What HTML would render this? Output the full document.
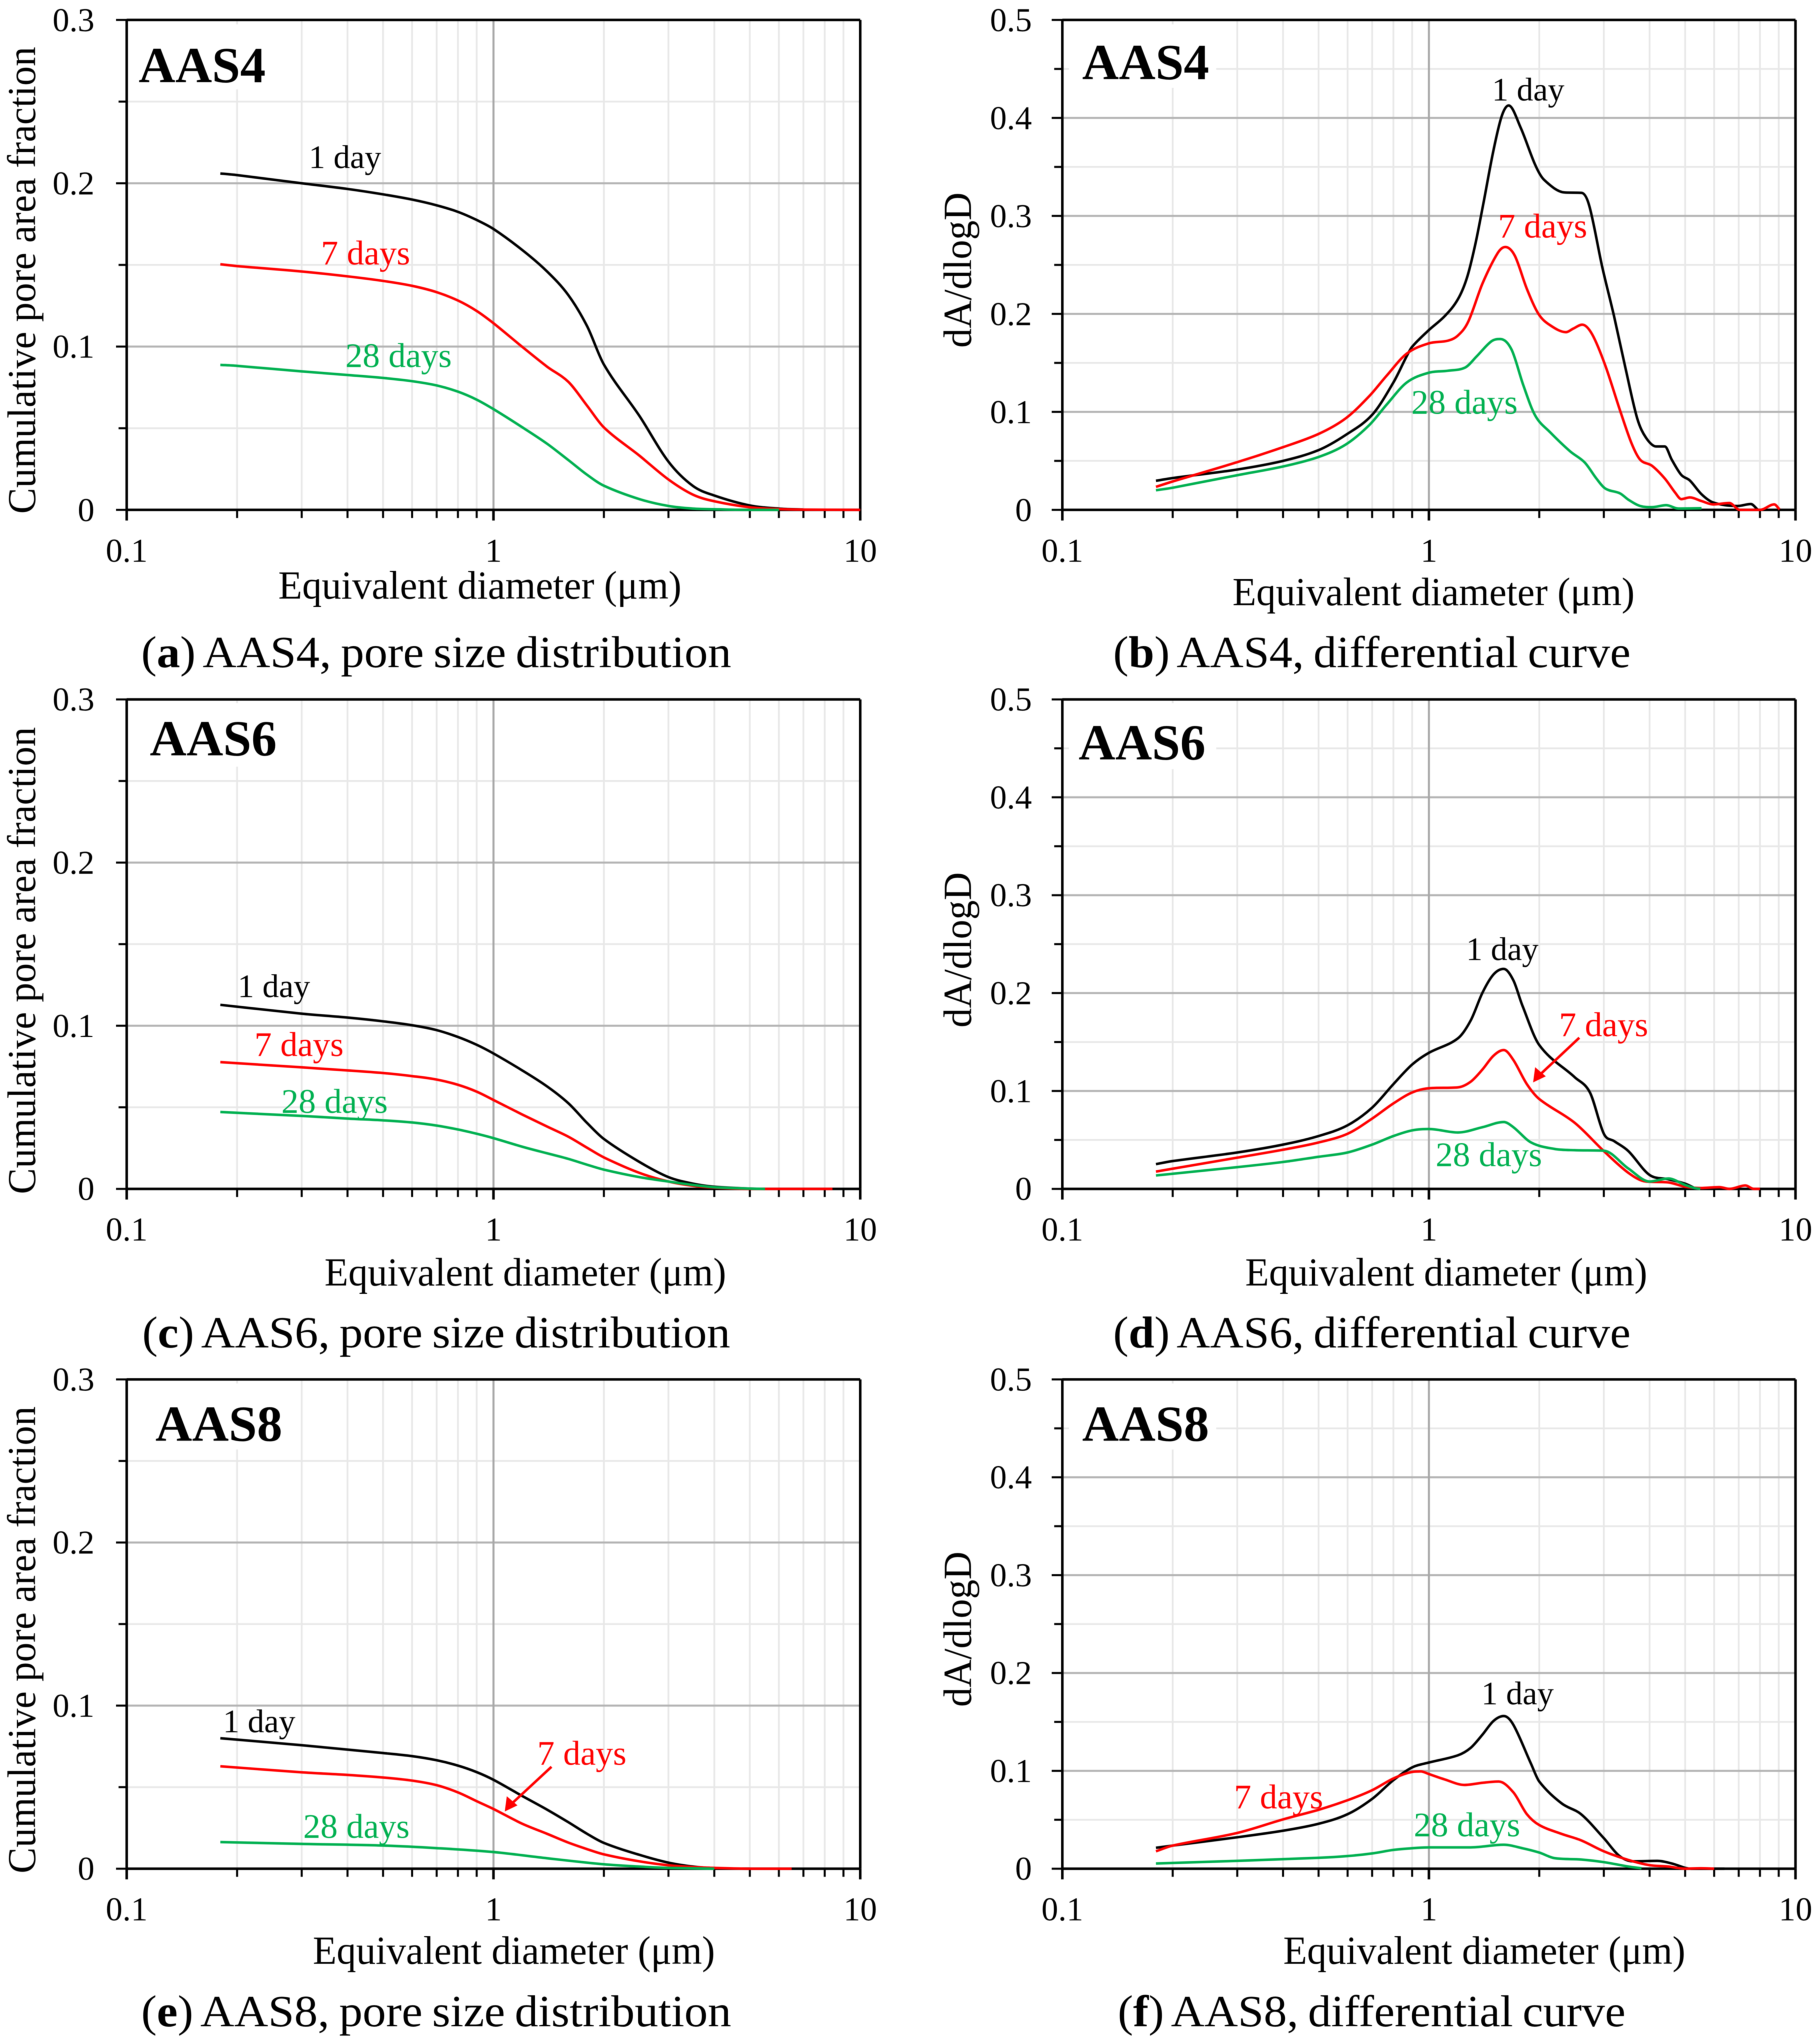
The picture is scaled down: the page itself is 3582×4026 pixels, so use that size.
<!DOCTYPE html>
<html lang="en">
<head>
<meta charset="utf-8">
<title>Pore size distribution and differential curves</title>
<style>
html,body{margin:0;padding:0;background:#fff;width:3582px;height:4026px;overflow:hidden}
svg{display:block;filter:blur(0.9px)}
text{font-family:"Liberation Serif",serif;fill:#000}
.tick{font-size:66px}
.lab{font-size:68px}
.lab1{font-size:65px}
.aas{font-size:100px;font-weight:bold}
.ax{font-size:78px}
.cap{font-size:88px;word-spacing:-4px}
.ytitle{font-size:78px}
.red{fill:#ff0000}
.green{fill:#00b050}
</style>
</head>
<body>
<svg xmlns="http://www.w3.org/2000/svg" width="3582" height="4026" viewBox="0 0 3582 4026">
<rect width="3582" height="4026" fill="#fff"/>

<g id="panel-a"><g class="plot"></g>
<rect x="262" y="48" width="280" height="128" fill="#fff"/>
<text class="aas" x="273" y="162">AAS4</text>
<text class="lab1" x="608" y="331">1 day</text>
<text class="lab red" x="632" y="521">7 days</text>
<text class="lab green" x="680" y="723">28 days</text>
<text class="ytitle" transform="translate(69,1012) rotate(-90)" textLength="920" lengthAdjust="spacingAndGlyphs">Cumulative pore area fraction</text>
<text class="ax" x="548" y="1179" textLength="794" lengthAdjust="spacingAndGlyphs">Equivalent diameter (μm)</text>
<text class="cap" x="278" y="1314" textLength="1162" lengthAdjust="spacingAndGlyphs">(<tspan font-weight="bold">a</tspan>) AAS4, pore size distribution</text>
</g>

<g id="panel-b"><g class="plot"></g>
<rect x="2105" y="48" width="290" height="125" fill="#fff"/>
<text class="aas" x="2131" y="156">AAS4</text>
<text class="lab1" x="2938" y="198">1 day</text>
<text class="lab red" x="2950" y="468">7 days</text>
<text class="lab green" x="2779" y="815">28 days</text>
<text class="ytitle" transform="translate(1912,685) rotate(-90)" textLength="306" lengthAdjust="spacingAndGlyphs">dA/dlogD</text>
<text class="ax" x="2427" y="1192" textLength="792" lengthAdjust="spacingAndGlyphs">Equivalent diameter (μm)</text>
<text class="cap" x="2192" y="1314" textLength="1019" lengthAdjust="spacingAndGlyphs">(<tspan font-weight="bold">b</tspan>) AAS4, differential curve</text>
</g>

<g id="panel-c"><g class="plot"></g>
<rect x="262" y="1385" width="290" height="125" fill="#fff"/>
<text class="aas" x="295" y="1488">AAS6</text>
<text class="lab1" x="468" y="1964">1 day</text>
<text class="lab red" x="501" y="2080">7 days</text>
<text class="lab green" x="554" y="2192">28 days</text>
<text class="ytitle" transform="translate(69,2352) rotate(-90)" textLength="920" lengthAdjust="spacingAndGlyphs">Cumulative pore area fraction</text>
<text class="ax" x="639" y="2532" textLength="791" lengthAdjust="spacingAndGlyphs">Equivalent diameter (μm)</text>
<text class="cap" x="280" y="2654" textLength="1158" lengthAdjust="spacingAndGlyphs">(<tspan font-weight="bold">c</tspan>) AAS6, pore size distribution</text>
</g>

<g id="panel-d"><g class="plot"></g>
<rect x="2105" y="1385" width="290" height="130" fill="#fff"/>
<text class="aas" x="2124" y="1496">AAS6</text>
<text class="lab1" x="2887" y="1891">1 day</text>
<text class="lab red" x="3070" y="2041">7 days</text>
<text class="lab green" x="2827" y="2297">28 days</text>
<line x1="3110" y1="2044" x2="3028" y2="2121" stroke="#ff0000" stroke-width="5"/>
<polygon points="3019,2132 3023,2102 3044,2120" fill="#ff0000"/>
<text class="ytitle" transform="translate(1912,2024) rotate(-90)" textLength="306" lengthAdjust="spacingAndGlyphs">dA/dlogD</text>
<text class="ax" x="2452" y="2532" textLength="792" lengthAdjust="spacingAndGlyphs">Equivalent diameter (μm)</text>
<text class="cap" x="2192" y="2654" textLength="1019" lengthAdjust="spacingAndGlyphs">(<tspan font-weight="bold">d</tspan>) AAS6, differential curve</text>
</g>

<g id="panel-e"><g class="plot"></g>
<rect x="262" y="2725" width="300" height="130" fill="#fff"/>
<text class="aas" x="306" y="2838">AAS8</text>
<text class="lab1" x="439" y="3412">1 day</text>
<text class="lab red" x="1058" y="3476">7 days</text>
<text class="lab green" x="597" y="3620">28 days</text>
<line x1="1086" y1="3480" x2="1003" y2="3557" stroke="#ff0000" stroke-width="5"/>
<polygon points="994,3568 998,3538 1019,3556" fill="#ff0000"/>
<text class="ytitle" transform="translate(69,3690) rotate(-90)" textLength="920" lengthAdjust="spacingAndGlyphs">Cumulative pore area fraction</text>
<text class="ax" x="616" y="3868" textLength="792" lengthAdjust="spacingAndGlyphs">Equivalent diameter (μm)</text>
<text class="cap" x="278" y="3991" textLength="1162" lengthAdjust="spacingAndGlyphs">(<tspan font-weight="bold">e</tspan>) AAS8, pore size distribution</text>
</g>

<g id="panel-f"><g class="plot"></g>
<rect x="2105" y="2725" width="290" height="130" fill="#fff"/>
<text class="aas" x="2131" y="2838">AAS8</text>
<text class="lab1" x="2917" y="3357">1 day</text>
<text class="lab red" x="2430" y="3562">7 days</text>
<text class="lab green" x="2784" y="3617">28 days</text>
<text class="ytitle" transform="translate(1912,3362) rotate(-90)" textLength="306" lengthAdjust="spacingAndGlyphs">dA/dlogD</text>
<text class="ax" x="2527" y="3868" textLength="792" lengthAdjust="spacingAndGlyphs">Equivalent diameter (μm)</text>
<text class="cap" x="2201" y="3991" textLength="1000" lengthAdjust="spacingAndGlyphs">(<tspan font-weight="bold">f</tspan>) AAS8, differential curve</text>
</g>
</svg>

<script>
// ---- shared axis labels ----
const xTickValues = [0.1, 1, 10];
const xTickLabels = ['0.1', '1', '10'];
const xMinorDecades = [0.1, 1];
const xMinorMultiples = [2, 3, 4, 5, 6, 7, 8, 9];
const cumulativeTicks = [0, 0.1, 0.2, 0.3];
const cumulativeTickLabels = ['0', '0.1', '0.2', '0.3'];
const cumulativeMinorTicks = [0.05, 0.15, 0.25];
const differentialTicks = [0, 0.1, 0.2, 0.3, 0.4, 0.5];
const differentialTickLabels = ['0', '0.1', '0.2', '0.3', '0.4', '0.5'];
const differentialMinorTicks = [0.05, 0.15, 0.25, 0.35, 0.45];

// ---- panel a: AAS4 cumulative ----
const aDiameter1 = [0.18,0.2,0.3,0.4,0.5,0.6,0.7,0.8,0.9,1,1.2,1.4,1.6,1.8,2,2.5,3,3.5,4,5,6,7];
const aValues1 = [0.206,0.205,0.2,0.1965,0.1932,0.19,0.1865,0.1825,0.1775,0.172,0.159,0.146,0.1315,0.1125,0.089,0.0575,0.0295,0.0146,0.0088,0.0027,0.0008,0.0002];
const aDiameter7 = [0.18,0.2,0.3,0.4,0.5,0.6,0.7,0.8,0.9,1,1.2,1.4,1.6,1.8,2,2.5,3,3.5,4,5,6,7,10];
const aValues7 = [0.1504,0.1493,0.146,0.143,0.1402,0.1372,0.1333,0.1282,0.1218,0.1143,0.0997,0.0877,0.0784,0.0638,0.0505,0.0332,0.0186,0.0093,0.0053,0.0016,0.0005,0.0002,0];
const aDiameter28 = [0.18,0.2,0.3,0.4,0.5,0.6,0.7,0.8,0.9,1,1.2,1.4,1.6,1.8,2,2.5,3,3.5,4,5,6];
const aValues28 = [0.0888,0.0882,0.0848,0.0826,0.0808,0.0788,0.0762,0.0724,0.0675,0.0617,0.0505,0.0405,0.0305,0.0215,0.0148,0.0066,0.0024,0.0008,0.0004,0,0];

// ---- panel b: AAS4 differential ----
const bDiameter1 = [0.18,0.2,0.3,0.4,0.5,0.593,0.7,0.8,0.87,0.9,1,1.106,1.2,1.27,1.34,1.41,1.5,1.58,1.65,1.78,1.95,2.06,2.34,2.61,2.74,2.97,3.2,3.44,3.7,3.91,4.17,4.4,4.6,4.88,5.15,5.54,5.96,6.95,7.55,7.9];
const bValues1 = [0.0297,0.0325,0.0412,0.05,0.061,0.0765,0.097,0.13,0.157,0.1665,0.1835,0.198,0.215,0.237,0.272,0.314,0.367,0.402,0.4127,0.39,0.352,0.337,0.324,0.3235,0.31,0.248,0.1975,0.144,0.0934,0.0737,0.0647,0.0647,0.051,0.0357,0.03,0.016,0.0076,0.004,0.006,0];
const bDiameter7 = [0.18,0.2,0.3,0.4,0.5,0.593,0.687,0.767,0.87,1,1.127,1.2,1.28,1.4,1.54,1.616,1.715,1.85,1.99,2.14,2.365,2.475,2.62,2.79,3.03,3.32,3.57,3.77,4.06,4.4,4.7,4.88,5.15,5.54,5.96,6.6,7.05,8,8.75,9.05];
const bValues7 = [0.0235,0.029,0.0487,0.064,0.0775,0.0934,0.116,0.137,0.1595,0.17,0.1727,0.178,0.192,0.231,0.262,0.2683,0.2594,0.2256,0.2,0.1885,0.1814,0.185,0.189,0.179,0.147,0.1018,0.068,0.0512,0.045,0.032,0.0174,0.011,0.0127,0.009,0.0056,0.007,0,0,0.0056,0.0005];
const bDiameter28 = [0.18,0.2,0.3,0.4,0.5,0.593,0.687,0.767,0.87,1,1.127,1.257,1.35,1.48,1.565,1.68,1.81,1.95,2.14,2.43,2.66,2.87,3.03,3.32,3.5,3.77,4.06,4.44,4.79,5.54];
const bValues28 = [0.02,0.0226,0.0354,0.0443,0.054,0.0667,0.0864,0.1075,0.13,0.14,0.142,0.1454,0.1567,0.172,0.1744,0.1637,0.127,0.0962,0.0793,0.0596,0.0484,0.0315,0.0217,0.0169,0.0104,0.004,0.0028,0.0048,0.0014,0.0017];

// ---- panel c: AAS6 cumulative ----
const cDiameter1 = [0.18,0.3,0.4,0.5,0.6,0.7,0.8,0.9,1,1.2,1.4,1.6,1.8,2,2.5,3,3.5,4,5,5.5];
const cValues1 = [0.1128,0.1074,0.105,0.1027,0.1003,0.0973,0.0931,0.0883,0.083,0.0725,0.0628,0.0525,0.0404,0.0306,0.0165,0.0072,0.0032,0.0013,0.0002,0];
const cDiameter7 = [0.18,0.3,0.4,0.5,0.6,0.7,0.8,0.9,1,1.2,1.4,1.6,1.8,2,2.5,3,3.5,4,5,8.4];
const cValues7 = [0.0777,0.0745,0.0726,0.071,0.0691,0.067,0.0638,0.0596,0.0545,0.0455,0.0382,0.032,0.0252,0.0193,0.0098,0.0045,0.0019,0.0008,0,0];
const cDiameter28 = [0.18,0.3,0.4,0.5,0.6,0.7,0.8,0.9,1,1.2,1.4,1.6,1.8,2,2.5,3,3.5,4,5,5.5];
const cValues28 = [0.0471,0.0447,0.0431,0.042,0.0407,0.0388,0.0364,0.0338,0.0311,0.0258,0.0218,0.0184,0.0148,0.0118,0.0072,0.0045,0.0024,0.001,0.0002,0];

// ---- panel d: AAS6 differential ----
const dDiameter1 = [0.18,0.2,0.3,0.4,0.5,0.6,0.7,0.8,0.9,1,1.2,1.3,1.4,1.5,1.6,1.7,1.8,2,2.5,2.75,3,3.2,3.5,4,4.5,5,5.3];
const dValues1 = [0.0253,0.0284,0.0372,0.0452,0.054,0.065,0.083,0.107,0.127,0.139,0.1538,0.172,0.2004,0.219,0.2247,0.213,0.187,0.147,0.114,0.0984,0.0563,0.0488,0.0386,0.0142,0.0098,0.0053,0.0009];
const dDiameter7 = [0.18,0.3,0.4,0.5,0.6,0.7,0.8,0.9,1,1.2,1.3,1.4,1.5,1.6,1.7,1.85,2,2.5,3,3.5,3.9,4.5,5,5.5,6.2,6.6,7.3,7.7,8];
const dValues7 = [0.0177,0.0319,0.04,0.0474,0.0563,0.0718,0.0873,0.0985,0.1028,0.1037,0.1095,0.122,0.136,0.1418,0.1316,0.107,0.0918,0.0674,0.0386,0.0164,0.0075,0.0066,0.0022,0.0009,0.0018,0,0.0035,0,0];
const dDiameter28 = [0.18,0.3,0.4,0.5,0.6,0.7,0.8,0.9,1,1.2,1.4,1.6,1.7,1.9,2.2,2.5,3,3.5,4,4.5,5,5.3,5.5];
const dValues28 = [0.0137,0.0222,0.0275,0.0328,0.0372,0.0452,0.054,0.0598,0.0612,0.0576,0.063,0.0683,0.063,0.0474,0.0408,0.0395,0.039,0.0208,0.0075,0.0106,0.004,0.0009,0];

// ---- panel e: AAS8 cumulative ----
const eDiameter1 = [0.18,0.3,0.5,0.6,0.7,0.8,0.9,1,1.2,1.4,1.6,1.8,2,2.5,3,3.5,4,5];
const eValues1 = [0.08,0.0757,0.0709,0.069,0.0665,0.0632,0.0592,0.0545,0.0445,0.0362,0.0285,0.0214,0.0158,0.0085,0.0037,0.0013,0.0003,0];
const eDiameter7 = [0.18,0.3,0.4,0.5,0.6,0.7,0.8,0.9,1,1.2,1.4,1.6,1.8,2,2.5,3,3.5,4,5,6.5];
const eValues7 = [0.0628,0.0591,0.0575,0.0559,0.054,0.0512,0.0468,0.0414,0.0366,0.0275,0.0214,0.016,0.012,0.0088,0.0045,0.0021,0.001,0.0005,0,0];
const eDiameter28 = [0.18,0.3,0.5,0.7,1,1.4,2,2.5,3,4];
const eValues28 = [0.0163,0.0152,0.0142,0.0126,0.0102,0.0064,0.0027,0.0013,0.0005,0];

// ---- panel f: AAS8 differential ----
const fDiameter1 = [0.18,0.2,0.3,0.4,0.5,0.6,0.7,0.8,0.9,1,1.2,1.3,1.4,1.5,1.6,1.7,1.9,2,2.3,2.6,3,3.3,3.6,4.2,4.6,5,5.2,6.4];
const fValues1 = [0.0214,0.0236,0.0321,0.0388,0.0459,0.0557,0.0713,0.0905,0.1035,0.1085,0.1159,0.1235,0.137,0.151,0.156,0.147,0.107,0.0891,0.0668,0.0557,0.0312,0.0134,0.0076,0.008,0.0053,0.0009,0,0];
const fDiameter7 = [0.18,0.2,0.3,0.4,0.5,0.6,0.7,0.8,0.9,0.95,1,1.1,1.25,1.4,1.55,1.7,1.85,2,2.3,2.6,3,3.5,4,4.5,5,5.5,6];
const fValues7 = [0.0178,0.0236,0.0365,0.0504,0.0602,0.07,0.0802,0.0922,0.0989,0.0994,0.0967,0.0914,0.0856,0.0878,0.0891,0.078,0.0557,0.0446,0.0356,0.029,0.0178,0.0089,0.0036,0.0022,0,0.0004,0];
const fDiameter28 = [0.18,0.3,0.5,0.6,0.7,0.8,0.9,1,1.3,1.6,1.8,2,2.2,2.6,3,3.5,3.8];
const fValues28 = [0.0053,0.008,0.0111,0.0129,0.0156,0.0192,0.0209,0.0218,0.0218,0.0245,0.0209,0.0165,0.0108,0.0094,0.0067,0.0022,0.0004];

const SVGNS = 'http://www.w3.org/2000/svg';
const BLACK = '#000000', RED = '#ff0000', GREEN = '#00b050';

function makeScaleX(left, right) {
  return function (v) { return left + (Math.log10(v) + 1) / 2 * (right - left); };
}
function makeScaleY(top, bottom, yMax) {
  return function (v) { return bottom - v / yMax * (bottom - top); };
}
function addLine(parent, x1, y1, x2, y2, color, width, name) {
  const el = document.createElementNS(SVGNS, 'line');
  el.setAttribute('x1', x1);
  el.setAttribute('y1', y1);
  el.setAttribute('x2', x2);
  el.setAttribute('y2', y2);
  el.setAttribute('stroke', color);
  el.setAttribute('stroke-width', width);
  
  
  parent.appendChild(el);
  return el;
}
function addTickLabel(parent, x, y, anchor, label, name) {
  const el = document.createElementNS(SVGNS, 'text');
  el.setAttribute('class', 'tick');
  el.setAttribute('x', x);
  el.setAttribute('y', y);
  el.setAttribute('text-anchor', anchor);
  el.textContent = label;
  
  
  parent.appendChild(el);
}
// Smooth cubic path through the pixel positions of the data points:
// central-difference tangents, flattened at local extrema and limited to avoid overshoot
function curvePath(px, py) {
  const n = px.length;
  const slope = [];
  for (let i = 0; i < n - 1; i++) slope.push((py[i + 1] - py[i]) / (px[i + 1] - px[i]));
  const tan = [slope[0]];
  for (let i = 1; i < n - 1; i++) {
    if (slope[i - 1] * slope[i] <= 0) { tan.push(0); continue; }
    const central = (py[i + 1] - py[i - 1]) / (px[i + 1] - px[i - 1]);
    const limit = 3 * Math.min(Math.abs(slope[i - 1]), Math.abs(slope[i]));
    tan.push(Math.sign(central) * Math.min(Math.abs(central), limit));
  }
  tan.push(slope[n - 2]);
  let d = 'M' + px[0].toFixed(1) + ' ' + py[0].toFixed(1);
  for (let i = 0; i < n - 1; i++) {
    const h = (px[i + 1] - px[i]) / 3;
    d += 'C' + (px[i] + h).toFixed(1) + ' ' + (py[i] + h * tan[i]).toFixed(1) + ' ' +
      (px[i + 1] - h).toFixed(1) + ' ' + (py[i + 1] - h * tan[i + 1]).toFixed(1) + ' ' +
      px[i + 1].toFixed(1) + ' ' + py[i + 1].toFixed(1);
  }
  return d;
}
function drawPanel(id, left, right, top, bottom, yMax, yTicks, yLabels, yMinor, labelRight, series) {
  const plot = document.querySelector('#' + id + ' .plot');
  const sx = makeScaleX(left, right);
  const sy = makeScaleY(top, bottom, yMax);
  // minor gridlines and ticks
  yMinor.forEach(function (v) {
    addLine(plot, left, sy(v), right, sy(v), '#e8e8e8', 3.5, id + '-minor-gridline-y');
    addLine(plot, left - 16, sy(v), left, sy(v), '#000', 4, id + '-minor-tick-y');
  });
  xMinorDecades.forEach(function (dec) {
    xMinorMultiples.forEach(function (m) {
      addLine(plot, sx(dec * m), top, sx(dec * m), bottom, '#e8e8e8', 3.5, id + '-minor-gridline-x');
      addLine(plot, sx(dec * m), bottom, sx(dec * m), bottom + 16, '#000', 4, id + '-minor-tick-x');
    });
  });
  // major gridlines, ticks and labels
  yTicks.forEach(function (v, i) {
    if (v > 0 && v < yMax) addLine(plot, left, sy(v), right, sy(v), '#b4b4b4', 4, id + '-gridline-y');
    addLine(plot, left - 21, sy(v), left, sy(v), '#000', 4, id + '-tick-y');
    addTickLabel(plot, labelRight, sy(v) + 22, 'end', yLabels[i], id + '-y-tick-label');
  });
  xTickValues.forEach(function (v, i) {
    if (v === 1) addLine(plot, sx(v), top, sx(v), bottom, '#a8a8a8', 4, id + '-gridline-x');
    addLine(plot, sx(v), bottom, sx(v), bottom + 21, '#000', 5, id + '-tick-x');
    addTickLabel(plot, sx(v), bottom + 102, 'middle', xTickLabels[i], id + '-x-tick-label');
  });
  // plot frame
  addLine(plot, left, top, right, top, '#000', 5, id + '-frame-top');
  addLine(plot, right, top, right, bottom, '#000', 5, id + '-frame-right');
  addLine(plot, left, top, left, bottom, '#000', 5, id + '-y-axis-line');
  addLine(plot, left, bottom, right, bottom, '#000', 5, id + '-x-axis-line');
  // data curves
  series.forEach(function (s) {
    const path = document.createElementNS(SVGNS, 'path');
    path.setAttribute('d', curvePath(s.d.map(sx), s.v.map(sy)));
    path.setAttribute('fill', 'none');
    path.setAttribute('stroke', s.color);
    path.setAttribute('stroke-width', 5);
    path.setAttribute('stroke-linejoin', 'round');
    
    
    plot.appendChild(path);
  });
}

const L1 = 249.5, R1 = 1694, L2 = 2092, R2 = 3535.7;
drawPanel('panel-a', L1, R1, 39.3, 1004.3, 0.3, cumulativeTicks, cumulativeTickLabels, cumulativeMinorTicks, 186, [
  {name: '1-day', color: BLACK, d: aDiameter1, v: aValues1},
  {name: '7-days', color: RED, d: aDiameter7, v: aValues7},
  {name: '28-days', color: GREEN, d: aDiameter28, v: aValues28}
]);
drawPanel('panel-b', L2, R2, 39.3, 1004.3, 0.5, differentialTicks, differentialTickLabels, differentialMinorTicks, 2032, [
  {name: '1-day', color: BLACK, d: bDiameter1, v: bValues1},
  {name: '7-days', color: RED, d: bDiameter7, v: bValues7},
  {name: '28-days', color: GREEN, d: bDiameter28, v: bValues28}
]);
drawPanel('panel-c', L1, R1, 1377.6, 2341.7, 0.3, cumulativeTicks, cumulativeTickLabels, cumulativeMinorTicks, 186, [
  {name: '1-day', color: BLACK, d: cDiameter1, v: cValues1},
  {name: '7-days', color: RED, d: cDiameter7, v: cValues7},
  {name: '28-days', color: GREEN, d: cDiameter28, v: cValues28}
]);
drawPanel('panel-d', L2, R2, 1377.6, 2341.7, 0.5, differentialTicks, differentialTickLabels, differentialMinorTicks, 2032, [
  {name: '1-day', color: BLACK, d: dDiameter1, v: dValues1},
  {name: '7-days', color: RED, d: dDiameter7, v: dValues7},
  {name: '28-days', color: GREEN, d: dDiameter28, v: dValues28}
]);
drawPanel('panel-e', L1, R1, 2717, 3680.7, 0.3, cumulativeTicks, cumulativeTickLabels, cumulativeMinorTicks, 186, [
  {name: '1-day', color: BLACK, d: eDiameter1, v: eValues1},
  {name: '7-days', color: RED, d: eDiameter7, v: eValues7},
  {name: '28-days', color: GREEN, d: eDiameter28, v: eValues28}
]);
drawPanel('panel-f', L2, R2, 2717, 3680.7, 0.5, differentialTicks, differentialTickLabels, differentialMinorTicks, 2032, [
  {name: '1-day', color: BLACK, d: fDiameter1, v: fValues1},
  {name: '7-days', color: RED, d: fDiameter7, v: fValues7},
  {name: '28-days', color: GREEN, d: fDiameter28, v: fValues28}
]);
</script>
</body>
</html>
